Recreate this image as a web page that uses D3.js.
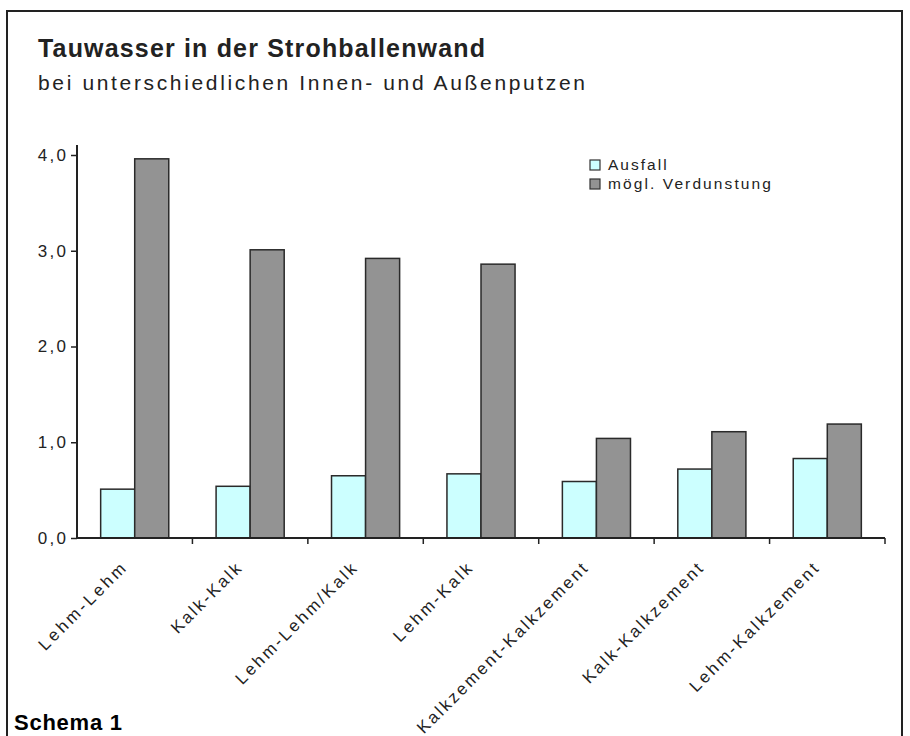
<!DOCTYPE html>
<html><head><meta charset="utf-8">
<script src="https://cdn.jsdelivr.net/npm/d3@7"></script>
<style>body{margin:0;background:#fff}svg{display:block}</style>
</head><body>
<svg id="c" width="910" height="736"></svg>
<script>
const categories = ["Lehm-Lehm","Kalk-Kalk","Lehm-Lehm/Kalk","Lehm-Kalk","Kalkzement-Kalkzement","Kalk-Kalkzement","Lehm-Kalkzement"];
const seriesNames = ["Ausfall","mögl. Verdunstung"];
const ausfall = [0.51,0.54,0.65,0.67,0.59,0.72,0.83];
const verdunstung = [3.96,3.01,2.92,2.86,1.04,1.11,1.19];
const yTicks = [0,1,2,3,4];
const title = "Tauwasser in der Strohballenwand";
const subtitle = "bei unterschiedlichen Innen- und Außenputzen";
const caption = "Schema 1";

const colors = ["#ccffff","#939393"];
const svg = d3.select("#c");
const font = "Liberation Sans, Arial, sans-serif";
const ink = "#222";

// frame
svg.append("rect").attr("x",7).attr("y",11).attr("width",895).attr("height",740)
  .attr("fill","none").attr("stroke","#222").attr("stroke-width",2);

function stretch(sel, factor){
  sel.each(function(){
    const w = this.getComputedTextLength();
    d3.select(this).attr("textLength", w*factor).attr("lengthAdjust","spacing");
  });
}

svg.append("text").attr("x",38).attr("y",57).text(title)
  .attr("font-family",font).attr("font-weight","bold").attr("font-size",25).attr("fill",ink)
  .attr("textLength",447).attr("lengthAdjust","spacing");
svg.append("text").attr("x",38).attr("y",90).text(subtitle)
  .attr("font-family",font).attr("font-size",21).attr("fill",ink)
  .attr("textLength",547).attr("lengthAdjust","spacing");
svg.append("text").attr("x",14).attr("y",730).text(caption)
  .attr("font-family",font).attr("font-weight","bold").attr("font-size",22).attr("fill","#000")
  .attr("textLength",108).attr("lengthAdjust","spacing");

const x0 = 77, x1 = 885, yBase = 538, yTop = 155;
const y = d3.scaleLinear().domain([0,4]).range([yBase,yTop]);
const x = d3.scaleBand().domain(categories).range([x0,x1]).paddingInner(0.41).paddingOuter(0.205);
const xs = d3.scaleBand().domain(seriesNames).range([0,x.bandwidth()]);

// bars
const data = [ausfall, verdunstung];
seriesNames.forEach((s,si)=>{
  svg.append("g").selectAll("rect").data(categories).join("rect")
    .attr("x",c=>x(c)+xs(s))
    .attr("y",(c,i)=>y(data[si][i]))
    .attr("width",xs.bandwidth())
    .attr("height",(c,i)=>yBase-y(data[si][i]))
    .attr("fill",colors[si]).attr("stroke","#2a2a2a").attr("stroke-width",1.5);
});

// y axis
const yAxis = svg.append("g").attr("transform",`translate(${x0},0)`)
  .call(d3.axisLeft(y).tickValues(yTicks).tickSize(6).tickPadding(5)
    .tickFormat(d=>d3.format(".1f")(d).replace(".",",")));
yAxis.select(".domain").remove();
yAxis.selectAll(".tick line").attr("stroke","#222").attr("stroke-width",1.5);
yAxis.selectAll(".tick text").attr("font-family",font).attr("font-size",17).attr("fill",ink)
  .call(stretch,1.2);
svg.append("line").attr("x1",x0).attr("x2",x0).attr("y1",yTop-10).attr("y2",yBase)
  .attr("stroke","#222").attr("stroke-width",2);

// x axis
svg.append("line").attr("x1",x0).attr("x2",x1).attr("y1",yBase).attr("y2",yBase)
  .attr("stroke","#222").attr("stroke-width",2);
const step = x.step();
svg.append("g").selectAll("line").data(d3.range(1,categories.length+1)).join("line")
  .attr("x1",i=>x0+i*step).attr("x2",i=>x0+i*step).attr("y1",yBase).attr("y2",yBase+6)
  .attr("stroke","#222").attr("stroke-width",1.5);

svg.append("g").selectAll("text").data(categories).join("text")
  .attr("transform",c=>`translate(${x(c)+x.bandwidth()/2-8},${yBase+32}) rotate(-45)`)
  .attr("text-anchor","end").attr("font-family",font).attr("font-size",17).attr("fill",ink)
  .text(c=>c).call(stretch,1.27);

// legend
const lg = svg.append("g");
seriesNames.forEach((s,i)=>{
  const ly = 165 + i*19;
  lg.append("rect").attr("x",590).attr("y",ly-5).attr("width",10).attr("height",10)
    .attr("fill",colors[i]).attr("stroke","#333").attr("stroke-width",1.2);
  lg.append("text").attr("x",608).attr("y",ly+5).text(s)
    .attr("font-family",font).attr("font-size",15.5).attr("fill",ink)
    .call(stretch,1.26);
});
</script>
</body></html>
